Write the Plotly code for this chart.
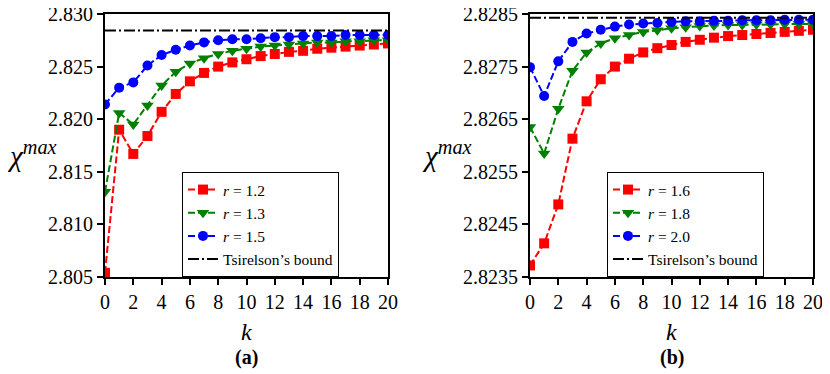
import plotly.graph_objects as go

K = list(range(21))

# Panel (a)
A_R12 = [2.8054, 2.8190, 2.8167, 2.8184, 2.8207, 2.8224, 2.8236, 2.8244, 2.8250, 2.8254,
         2.8257, 2.8260, 2.8262, 2.8264, 2.8265, 2.8267, 2.8268, 2.8269, 2.8270, 2.8271, 2.8272]
A_R13 = [2.8131, 2.8206, 2.8195, 2.8213, 2.8232, 2.8245, 2.8253, 2.8258, 2.8262, 2.8265,
         2.8267, 2.8269, 2.8270, 2.8271, 2.8272, 2.8273, 2.8273, 2.8274, 2.8274, 2.8275, 2.8275]
A_R15 = [2.8214, 2.8230, 2.8235, 2.8251, 2.8261, 2.8266, 2.8270, 2.8273, 2.8275, 2.8276,
         2.8276, 2.8277, 2.8278, 2.8278, 2.8279, 2.8279, 2.8279, 2.8280, 2.8280, 2.8280, 2.8280]

# Panel (b)
B_R16 = [2.82372, 2.82414, 2.82488, 2.82613, 2.82684, 2.82726, 2.82750, 2.82765, 2.82777, 2.82785,
         2.82791, 2.82797, 2.82801, 2.82805, 2.82808, 2.82810, 2.82812, 2.82814, 2.82816, 2.82818, 2.82820]
B_R18 = [2.82635, 2.82585, 2.82670, 2.82742, 2.82777, 2.82794, 2.82804, 2.82810, 2.82816, 2.82819,
         2.82823, 2.82825, 2.82827, 2.82828, 2.82829, 2.82829, 2.82830, 2.82830, 2.82831, 2.82831, 2.82831]
B_R20 = [2.82749, 2.82694, 2.82760, 2.82797, 2.82813, 2.82820, 2.82826, 2.82830, 2.82832, 2.82833,
         2.82835, 2.82836, 2.82836, 2.82837, 2.82837, 2.82838, 2.82838, 2.82838, 2.82839, 2.82839, 2.82839]

TSIRELSON = 2.8284271

A_LABELS = ["1.2", "1.3", "1.5"]
B_LABELS = ["1.6", "1.8", "2.0"]

A_YTICKS = [2.805, 2.810, 2.815, 2.820, 2.825, 2.830]
B_YTICKS = [2.8235, 2.8245, 2.8255, 2.8265, 2.8275, 2.8285]
XTICKS = list(range(0, 21, 2))

COLORS = ["#ff0000", "#008000", "#0000ff"]
SYMBOLS = ["square", "triangle-down", "circle"]
SIZES = [10, 11, 10]
FONT = "'Liberation Serif', 'DejaVu Serif', serif"

W, H = 830, 374
OFF = 8  # page body margin offset in the browser

fig = go.Figure()


def px_x(p):
    return (p - OFF) / W


def px_y(p):
    return 1 - (p - OFF) / H


series = [
    (A_R12, A_LABELS[0], "x", "y", "legend"),
    (A_R13, A_LABELS[1], "x", "y", "legend"),
    (A_R15, A_LABELS[2], "x", "y", "legend"),
]
for i, (ys, lab, xa, ya, lg) in enumerate(series):
    fig.add_trace(go.Scatter(
        x=K, y=ys, mode="lines+markers", name="<i>r</i> = " + lab,
        line=dict(color=COLORS[i], width=2, dash="7px,3px"),
        marker=dict(symbol=SYMBOLS[i], size=SIZES[i], color=COLORS[i]),
        xaxis=xa, yaxis=ya, legend=lg))
fig.add_trace(go.Scatter(
    x=[K[0], K[-1]], y=[TSIRELSON, TSIRELSON], mode="lines", name="Tsirelson’s bound",
    line=dict(color="black", width=2, dash="11px,3px,2px,3px"),
    xaxis="x", yaxis="y", legend="legend"))

series_b = [B_R16, B_R18, B_R20]
for i, ys in enumerate(series_b):
    fig.add_trace(go.Scatter(
        x=K, y=ys, mode="lines+markers", name="<i>r</i> = " + B_LABELS[i],
        line=dict(color=COLORS[i], width=2, dash="7px,3px"),
        marker=dict(symbol=SYMBOLS[i], size=SIZES[i], color=COLORS[i]),
        xaxis="x2", yaxis="y2", legend="legend2"))
fig.add_trace(go.Scatter(
    x=[K[0], K[-1]], y=[TSIRELSON, TSIRELSON], mode="lines", name="Tsirelson’s bound",
    line=dict(color="black", width=2, dash="11px,3px,2px,3px"),
    xaxis="x2", yaxis="y2", legend="legend2"))

axis_common = dict(showline=True, mirror=True, linecolor="black", linewidth=2,
                   ticks="outside", ticklen=6, tickwidth=1.5, tickcolor="black",
                   showgrid=False, zeroline=False, automargin=False,
                   ticklabeloverflow="allow",
                   tickfont=dict(family=FONT, size=20, color="black"))

ydom = [px_y(277), px_y(14)]
leg_common = dict(xanchor="left", yanchor="top", bordercolor="black", borderwidth=1,
                  bgcolor="white", font=dict(family=FONT, size=15.5, color="black"),
                  tracegroupgap=0, itemwidth=30)
fig.update_layout(
    template="none",
    width=W, height=H, margin=dict(l=0, r=0, t=0, b=0, pad=0, autoexpand=False),
    plot_bgcolor="white", paper_bgcolor="white",
    font=dict(family=FONT, color="black"),
    xaxis=dict(domain=[px_x(105), px_x(388)], range=[0, 20], tickvals=XTICKS, anchor="y", **axis_common),
    yaxis=dict(domain=ydom, range=[2.805, 2.830], tickvals=A_YTICKS, tickformat=".3f", anchor="x", **axis_common),
    xaxis2=dict(domain=[px_x(530), px_x(813)], range=[0, 20], tickvals=XTICKS, anchor="y2", **axis_common),
    yaxis2=dict(domain=ydom, range=[2.8235, 2.8285], tickvals=B_YTICKS, tickformat=".4f", anchor="x2", **axis_common),
    legend=dict(x=px_x(182), y=px_y(172), **leg_common),
    legend2=dict(x=px_x(607), y=px_y(172), **leg_common),
    showlegend=True,
)

ann = []
for cx, lab in [((105 + 388) / 2, "(a)"), ((530 + 813) / 2, "(b)")]:
    ann.append(dict(x=px_x(cx), y=px_y(332), xref="paper", yref="paper", text="<i>k</i>",
                    showarrow=False, font=dict(family=FONT, size=24, color="black"),
                    xanchor="center", yanchor="middle"))
    ann.append(dict(x=px_x(cx), y=px_y(357), xref="paper", yref="paper", text="<b>" + lab + "</b>",
                    showarrow=False, font=dict(family=FONT, size=20, color="black"),
                    xanchor="center", yanchor="middle"))
for lx in [5, 420]:
    ann.append(dict(x=px_x(lx), y=px_y(154), xref="paper", yref="paper",
                    text="<i>χ</i><sup><i>max</i></sup>",
                    showarrow=False, font=dict(family=FONT, size=29, color="black"),
                    xanchor="left", yanchor="middle"))
fig.update_layout(annotations=ann)

fig.write_html("out.html")
